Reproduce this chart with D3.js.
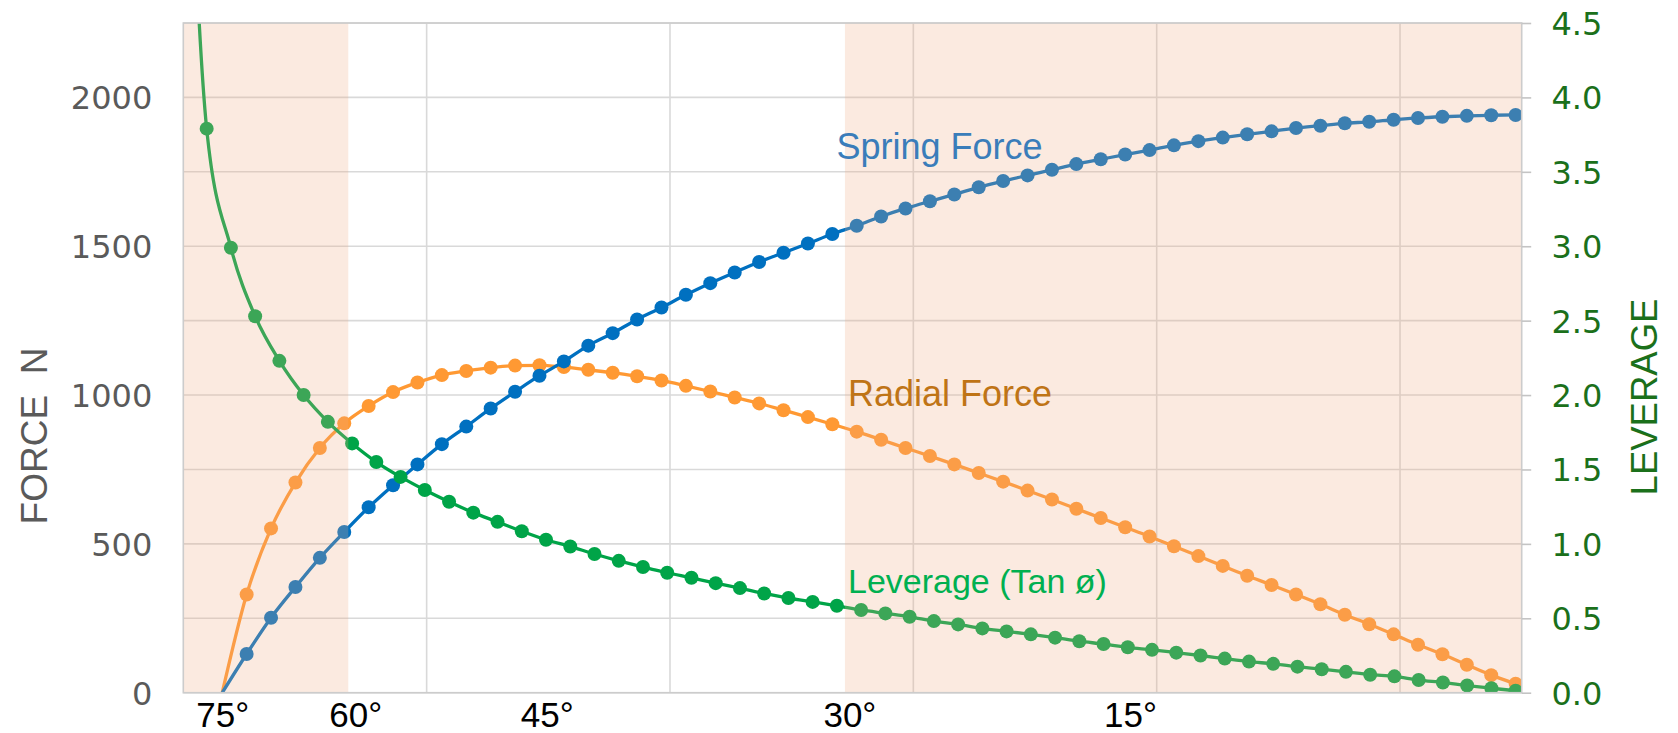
<!DOCTYPE html>
<html>
<head>
<meta charset="utf-8">
<script src="https://cdn.jsdelivr.net/npm/d3@7"></script>
<style>
  html, body { margin: 0; padding: 0; background: #ffffff; }
  svg { display: block; }
</style>
</head>
<body>
<svg id="chart" width="1678" height="733"></svg>
<script>
// Spring force and radial force (N) at equal steps of travel
const springForce = [0, 130, 252, 355, 453, 540, 623, 697, 767, 835, 894, 955, 1011, 1065, 1113, 1166,
  1208, 1254, 1294, 1337, 1376, 1412, 1447, 1478, 1509, 1541, 1569, 1600, 1627, 1651, 1674, 1698,
  1719, 1738, 1757, 1776, 1792, 1808, 1823, 1839, 1853, 1865, 1876, 1886, 1897, 1905, 1913, 1918,
  1925, 1931, 1935, 1938, 1940, 1941];
const radialForce = [0, 330, 552, 706, 822, 905, 963, 1010, 1042, 1067, 1081, 1092, 1099, 1100, 1094,
  1085, 1075, 1063, 1049, 1031, 1012, 992, 972, 949, 926, 902, 877, 850, 822, 795, 767, 738, 709,
  679, 649, 618, 587, 556, 525, 492, 459, 426, 393, 362, 330, 297, 262, 230, 196, 161, 129, 94, 59, 30];
// Leverage (tan ø); the first sample lies above the top of the axis
const leverage = [7.1, 3.79, 2.99, 2.53, 2.23, 2.00, 1.82, 1.675, 1.55, 1.45, 1.362, 1.283, 1.210,
  1.148, 1.085, 1.028, 0.982, 0.932, 0.886, 0.845, 0.806, 0.772, 0.736, 0.703, 0.667, 0.636, 0.610,
  0.584, 0.556, 0.533, 0.510, 0.481, 0.459, 0.432, 0.412, 0.392, 0.370, 0.346, 0.327, 0.305, 0.288,
  0.269, 0.250, 0.229, 0.209, 0.194, 0.175, 0.158, 0.140, 0.121, 0.110, 0.085, 0.069, 0.048, 0.030, 0.013];

const forceTicks = [0, 500, 1000, 1500, 2000];
const leverageTicks = [0, 0.5, 1.0, 1.5, 2.0, 2.5, 3.0, 3.5, 4.0, 4.5];
const angleLabels = ["75°", "60°", "45°", "30°", "15°"];
const anglePositions = [0, 5.45, 13.3, 25.7, 37.2];   // in force-sample steps
const gridSteps = [10, 20, 30, 40, 50];
const shadedBands = [[0, 6.78], [27.19, 55]];
const seriesLabels = ["Spring Force", "Radial Force", "Leverage (Tan ø)"];

const svg = d3.select("#chart");
const plot = { left: 183.3, right: 1521.7, top: 23, bottom: 692.7 };

// frame scale across the plot width
const x = d3.scaleLinear().domain([0, 55]).range([plot.left, plot.right]);
const xForce = d3.scaleLinear().domain([0, springForce.length - 1]).range([x(1.6), x(54.75)]);
const xLev = d3.scaleLinear().domain([1, leverage.length - 1]).range([x(0.96), x(54.75)]);
const yF = d3.scaleLinear().domain([0, 2250]).range([plot.bottom, plot.top]);
const yL = d3.scaleLinear().domain([0, 4.5]).range([plot.bottom, plot.top]);

svg.append("defs").append("clipPath").attr("id", "plotClip")
  .append("rect")
  .attr("x", plot.left).attr("y", plot.top)
  .attr("width", plot.right - plot.left).attr("height", plot.bottom - plot.top);

// grid
const grid = svg.append("g");
grid.selectAll("line.h").data(leverageTicks).join("line")
  .attr("x1", plot.left).attr("x2", plot.right)
  .attr("y1", d => yL(d)).attr("y2", d => yL(d))
  .attr("stroke", "#d9d9d9").attr("stroke-width", 1.6);
grid.selectAll("line.v").data(gridSteps).join("line")
  .attr("x1", d => x(d)).attr("x2", d => x(d))
  .attr("y1", plot.top).attr("y2", plot.bottom)
  .attr("stroke", "#d9d9d9").attr("stroke-width", 1.6);

// series
const series = svg.append("g").attr("clip-path", "url(#plotClip)");
const curve = d3.curveMonotoneX;

function drawSeries(values, xs, ys, color) {
  const line = d3.line().x((d, i) => xs(i)).y(d => ys(d)).curve(curve);
  series.append("path").datum(values)
    .attr("d", line).attr("fill", "none")
    .attr("stroke", color).attr("stroke-width", 3.3);
  // the first sample of each series carries no marker
  const pts = values.map((v, i) => ({ v, i })).filter(p => p.i > 0);
  series.append("g").selectAll("circle").data(pts).join("circle")
    .attr("cx", p => xs(p.i)).attr("cy", p => ys(p.v))
    .attr("r", 7).attr("fill", color);
}

drawSeries(radialForce, xForce, yF, "#ff9933");
drawSeries(springForce, xForce, yF, "#0070c0");
drawSeries(leverage, xLev, yL, "#00a448");

// shaded angle ranges
svg.append("g").selectAll("rect").data(shadedBands).join("rect")
  .attr("x", d => x(d[0])).attr("width", d => x(d[1]) - x(d[0]))
  .attr("y", plot.top).attr("height", plot.bottom - plot.top)
  .attr("fill", "rgb(240,170,130)").attr("fill-opacity", 0.25);

// frame
svg.append("rect")
  .attr("x", plot.left).attr("y", plot.top)
  .attr("width", plot.right - plot.left).attr("height", plot.bottom - plot.top)
  .attr("fill", "none").attr("stroke", "#cccccc").attr("stroke-width", 1.6);

// left axis: force
const leftAxis = svg.append("g")
  .attr("transform", `translate(${plot.left},0)`)
  .call(d3.axisLeft(yF).tickValues(forceTicks).tickSize(0).tickPadding(31).tickFormat(d3.format("d")));
leftAxis.select(".domain").remove();
leftAxis.selectAll("text")
  .attr("dy", "0.36em")
  .style("font-family", "'DejaVu Sans', Verdana, sans-serif")
  .style("font-size", "32px").attr("fill", "#5a5a5a");

// right axis: leverage
const rightAxis = svg.append("g")
  .attr("transform", `translate(${plot.right},0)`)
  .call(d3.axisRight(yL).tickValues(leverageTicks).tickSize(9.5).tickPadding(20.3).tickFormat(d3.format(".1f")));
rightAxis.select(".domain").remove();
rightAxis.selectAll("line").attr("stroke", "#c4c4c4").attr("stroke-width", 1.6);
rightAxis.selectAll("text")
  .attr("dy", "0.36em")
  .style("font-family", "'DejaVu Sans', Verdana, sans-serif")
  .style("font-size", "32px").attr("fill", "#1b701b");

// bottom axis: angle ø
const bottomAxis = svg.append("g")
  .attr("transform", `translate(0,${plot.bottom})`)
  .call(d3.axisBottom(xForce).tickValues(anglePositions).tickSize(0).tickPadding(9.5)
    .tickFormat((d, i) => angleLabels[i]));
bottomAxis.select(".domain").remove();
bottomAxis.selectAll("text")
  .style("font-family", "'Liberation Sans', Arial, sans-serif")
  .style("font-size", "35px").attr("fill", "#000000");

// axis titles
svg.append("text")
  .attr("transform", "translate(46.5,436) rotate(-90)")
  .attr("text-anchor", "middle")
  .style("white-space", "pre")
  .style("font-family", "'Liberation Sans', Arial, sans-serif")
  .style("font-size", "37px").attr("fill", "#5a5a5a")
  .text("FORCE  N");
svg.append("text")
  .attr("transform", "translate(1656.5,397) rotate(-90)")
  .attr("text-anchor", "middle")
  .style("font-family", "'Liberation Sans', Arial, sans-serif")
  .style("font-size", "36.5px").attr("fill", "#1b701b")
  .text("LEVERAGE");

// series labels
const labelFont = "'Liberation Sans', Arial, sans-serif";
svg.append("text").attr("x", 836.5).attr("y", 159.3)
  .style("font-family", labelFont).style("font-size", "36px").attr("fill", "#3a7dba")
  .text(seriesLabels[0]);
svg.append("text").attr("x", 848).attr("y", 405.9)
  .style("font-family", labelFont).style("font-size", "36px").attr("fill", "#bf7416")
  .text(seriesLabels[1]);
svg.append("text").attr("x", 848).attr("y", 592.7)
  .style("font-family", labelFont).style("font-size", "34px").attr("fill", "#00b050")
  .text(seriesLabels[2]);
</script>
</body>
</html>
